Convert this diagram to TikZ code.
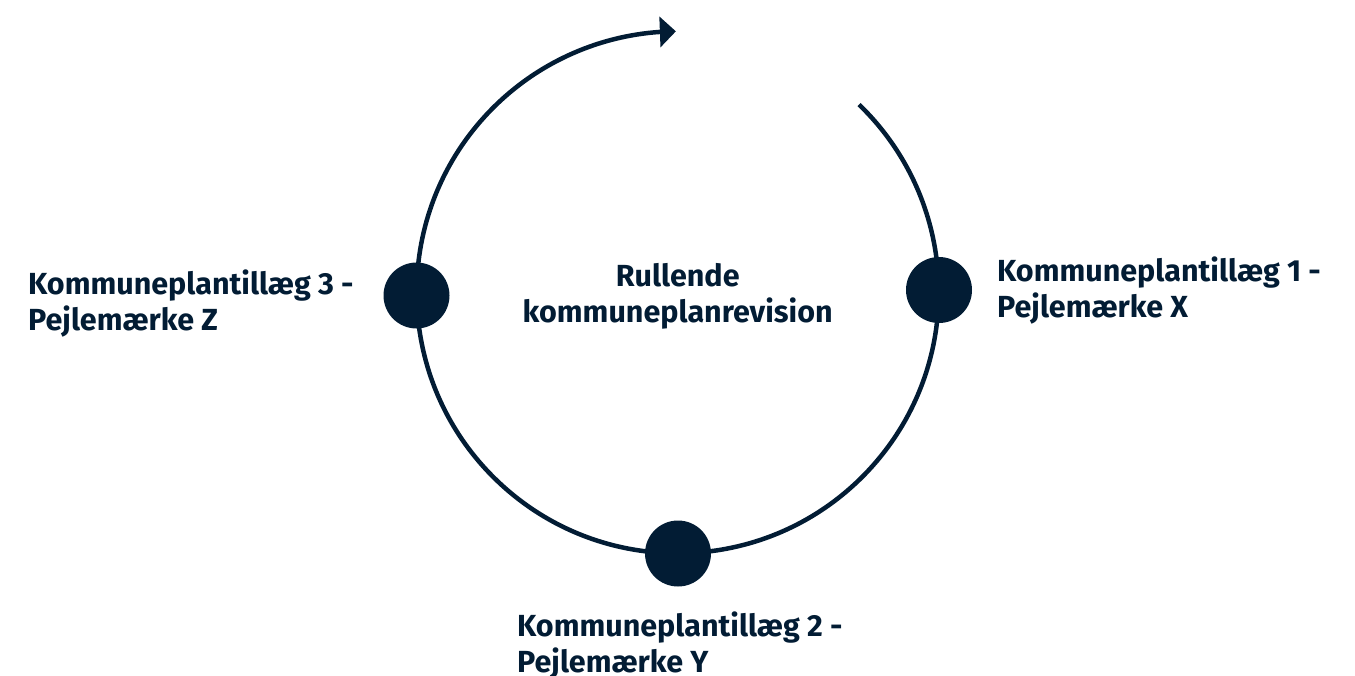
\documentclass[tikz,border=0pt]{standalone}
\usepackage{fontspec}
\setmainfont{Fira Sans}
\usetikzlibrary{arrows.meta,bending}
\definecolor{navy}{RGB}{2,28,52}
\tikzset{
  lbl/.style={font=\bfseries\fontsize{30.5}{36}\selectfont, text=navy, inner sep=0pt},
  dot/.style={circle, fill=navy, minimum size=66pt, inner sep=0pt},
  ring/.style={draw=navy, line width=4.5pt}
}
\begin{document}
\begin{tikzpicture}[x=1pt,y=-1pt]
\useasboundingbox (0,0) rectangle (1355,675);
\coordinate (c) at (677.7,292.3);
\draw[ring, -{Triangle[length=16pt,width=30pt]}] (c) ++(46:261 and -261) arc[start angle=46, end angle=-269.6, x radius=261, y radius=-261];
\node[dot] (d3) at (416.5,295.5) {};
\node[dot] (d1) at (939,290) {};
\node[dot] (d2) at (678,553.5) {};
\node[lbl, anchor=base west, align=left] (t3) at (28,330) {Kommuneplantillæg 3 -\\Pejlemærke Z};
\node[lbl, anchor=base west, align=left] (t1) at (997,317) {Kommuneplantillæg 1 -\\Pejlemærke X};
\node[lbl, anchor=base west, align=left] (t2) at (517,672) {Kommuneplantillæg 2 -\\Pejlemærke Y};
\node[lbl, anchor=base, align=center] (tc) at (677.7,322) {Rullende\\kommuneplanrevision};
\end{tikzpicture}
\end{document}
